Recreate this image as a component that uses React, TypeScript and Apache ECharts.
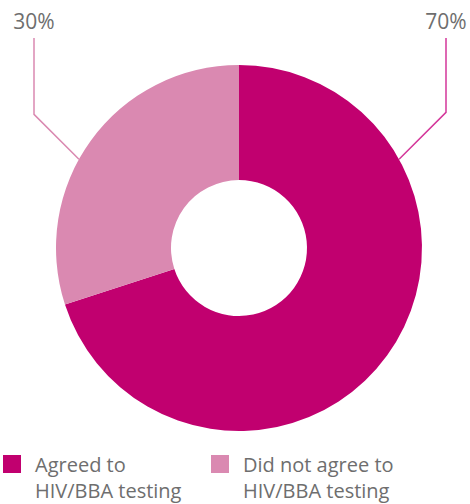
import React, { useEffect, useRef } from "react";
import * as echarts from "echarts";

const categories = ["Agreed to\nHIV/BBA testing", "Did not agree to\nHIV/BBA testing"];
const values = [70, 30];
const colors = ["#C1006F", "#DA89B1"];
const lineColors = ["#D4379A", "#DA89B1"];

export default function App() {
  const ref = useRef<HTMLDivElement>(null);
  useEffect(() => {
    const chart = echarts.init(ref.current!, null, { renderer: "svg" });
    const cx = 239, cy = 248, R = 183;
    const labelX = [446, 34];
    const startAng = [29, 151];
    const total = values.reduce((a, b) => a + b, 0);
    const lines: any[] = [];
    values.forEach((v, i) => {
      const a = (startAng[i] * Math.PI) / 180;
      const sx = cx + R * Math.cos(a);
      const sy = cy - R * Math.sin(a);
      const mx = labelX[i];
      const my = sy - Math.abs(mx - sx);
      lines.push({
        type: "polyline",
        shape: { points: [[sx, sy], [mx, my], [mx, 38]] },
        style: { stroke: lineColors[i], lineWidth: 1.5, fill: "none" },
        silent: true,
      });
      lines.push({
        type: "text",
        x: mx,
        y: 21,
        style: {
          text: Math.round((v / total) * 100) + "%",
          fontFamily: "Open Sans",
          fontSize: 21,
          fill: "#6e6e6e",
          align: "center",
          verticalAlign: "middle",
        },
        silent: true,
      });
    });
    const txt = { fontFamily: "Open Sans", fontSize: 20, color: "#6e6e6e" };
    const legendCommon = {
      top: 434,
      padding: 0,
      itemWidth: 18,
      itemHeight: 18,
      icon: "rect",
      selectedMode: false,
      formatter: (n: string) => {
        const [l1, l2] = n.split("\n");
        return "{z| }\n{a|" + l1 + "}\n{b|" + l2 + "}";
      },
      textStyle: {
        ...txt,
        padding: [0, 0, 0, 9],
        rich: {
          z: { ...txt, fontSize: 8, lineHeight: 18 },
          a: { ...txt, lineHeight: 34 },
          b: { ...txt, lineHeight: 18 },
        },
      },
    };
    chart.setOption({
      animation: false,
      legend: [
        { ...legendCommon, left: 3, data: [categories[0]] },
        { ...legendCommon, left: 211, data: [categories[1]] },
      ],
      graphic: lines,
      series: [
        {
          type: "pie",
          center: [cx, cy],
          radius: [68, R],
          startAngle: 90,
          clockwise: true,
          data: categories.map((c, i) => ({
            name: c,
            value: values[i],
            itemStyle: { color: colors[i] },
          })),
          label: { show: false },
          labelLine: { show: false },
          emphasis: { disabled: true },
        },
      ],
    });
    return () => chart.dispose();
  }, []);
  return (
    <div
      ref={ref}
      style={{ position: "fixed", left: 0, top: 0, width: 470, height: 504, background: "#fff" }}
    />
  );
}
